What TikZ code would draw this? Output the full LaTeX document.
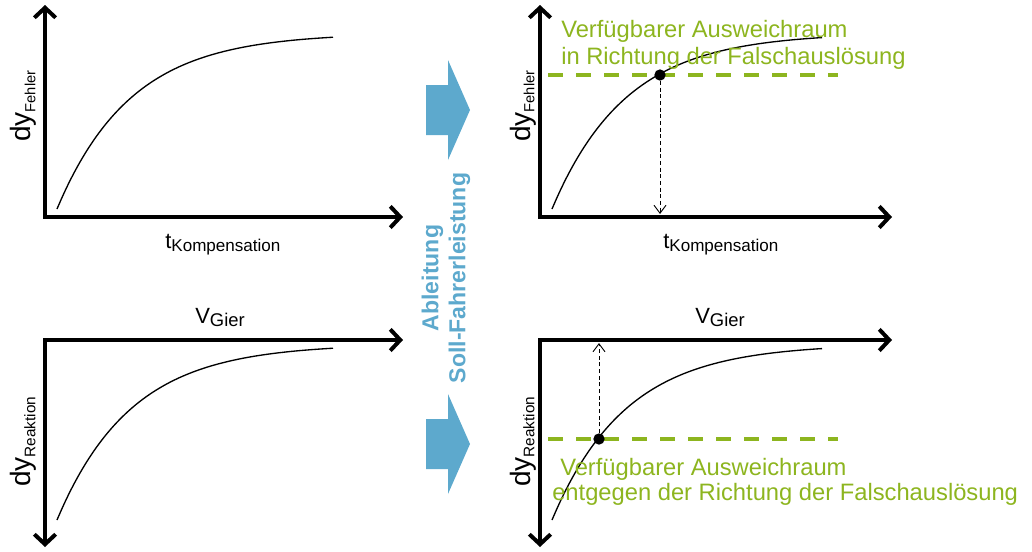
\documentclass[tikz,border=0pt]{standalone}
\usepackage{fontspec}
\setmainfont{Liberation Sans}
\usetikzlibrary{arrows.meta}
\definecolor{Leaf}{HTML}{8DB51F}
\definecolor{Sky}{HTML}{5DA9CD}
% main letter, then index set smaller and lowered
\newcommand{\axlabel}[3][12.4]{#2\raisebox{-0.3ex}{\fontsize{#1}{#1}\selectfont #3}}

\begin{document}
\begin{tikzpicture}[x=0.75pt,y=-0.75pt,
    axis/.style={line width=3pt,line join=miter,
      {Straight Barb[length=7.5pt,width=16pt]}-{Straight Barb[length=7.5pt,width=16pt]}},
    curve/.style={line width=1pt,smooth,samples=60},
    limit/.style={Leaf,line width=3.25pt,dash pattern=on 11.25pt off 9.75pt},
    guide/.style={line width=0.7pt,dash pattern=on 3pt off 2pt,
      -{Straight Barb[length=6pt,width=9pt]}},
    dot/.style={circle,fill=black,inner sep=0pt,minimum size=8.5pt},
    lbl/.style={font=\fontsize{16.5}{18}\selectfont,inner sep=0pt,anchor=base west},
    ylbl/.style={font=\fontsize{21}{24}\selectfont,inner sep=0pt,anchor=base west,rotate=90},
    note/.style={Leaf,font=\fontsize{17.8}{20}\selectfont,inner sep=0pt,anchor=base west}]
  \useasboundingbox (0,0) rectangle (1032,551);

  % axes of the four panels
  \foreach \n/\ox/\xe in {l/45/403, r/540/892}{
    \coordinate (fy\n) at (\ox,5);
    \coordinate (fo\n) at (\ox,217);
    \coordinate (fx\n) at (\xe,217);
    \coordinate (ry\n) at (\ox,547);
    \coordinate (ro\n) at (\ox,340);
    \coordinate (rx\n) at (\xe,340);
    \draw[axis] (fy\n) -- (fo\n) -- (fx\n);
    \draw[axis] (ry\n) -- (ro\n) -- (rx\n);
  }

  % limits
  \draw[limit] (548,75) -- (838,75);
  \draw[limit] (548,439) -- (838,439);

  % curves
  \draw[curve] plot[domain=57:333] (\x,{209-176*(1-exp(-(\x-57)/74))});
  \draw[curve] plot[domain=552:822] (\x,{209-176*(1-exp(-(\x-552)/74))});
  \draw[curve] plot[domain=57:333] (\x,{520-176*(1-exp(-(\x-57)/74))});
  \draw[curve] plot[domain=552:822] (\x,{520-176*(1-exp(-(\x-552)/74))});

  % operating points
  \node[dot] (pf) at (660,75) {};
  \node[dot] (pr) at (599,439) {};
  \coordinate (kf) at (660,214);
  \coordinate (kr) at (599,343);
  \draw[guide] (pf) -- (kf);
  \draw[guide] (pr) -- (kr);

  % axis labels
  \node[lbl] (tl) at (165,248) {\axlabel[12.8]{t}{Kompensation}};
  \node[lbl] (tr) at (663,248) {\axlabel[12.8]{t}{Kompensation}};
  \node[lbl] (vl) at (195,323) {\axlabel[13.8]{V}{Gier}};
  \node[lbl] (vr) at (695,323) {\axlabel[13.8]{V}{Gier}};
  \node[ylbl] (fl) at (31,142) {\axlabel[11]{dy}{Fehler}};
  \node[ylbl] (fr) at (530,142) {\axlabel[11]{dy}{Fehler}};
  \node[ylbl] (rl) at (31,487) {\axlabel[11.5]{dy}{Reaktion}};
  \node[ylbl] (rr) at (530,487) {\axlabel[11.5]{dy}{Reaktion}};

  % blue arrows
  \foreach \yc in {110,444}{
    \fill[Sky] (426,\yc-25) -- (448,\yc-25) -- (448,\yc-50) -- (470,\yc)
      -- (448,\yc+50) -- (448,\yc+25) -- (426,\yc+25) -- cycle;
  }
  \node[Sky,font=\bfseries\fontsize{17.3}{20.25}\selectfont,align=center,rotate=90,
    inner sep=0pt] (abl) at (446,278) {Ableitung\\Soll-Fahrerleistung};

  % notes
  \node[note] (n1) at (561,37) {Verfügbarer Ausweichraum};
  \node[note] (n2) at (561,64) {in Richtung der Falschauslösung};
  \node[note] (n3) at (560,475) {Verfügbarer Ausweichraum};
  \node[note] (n4) at (552,500) {entgegen der Richtung der Falschauslösung};
\end{tikzpicture}
\end{document}
